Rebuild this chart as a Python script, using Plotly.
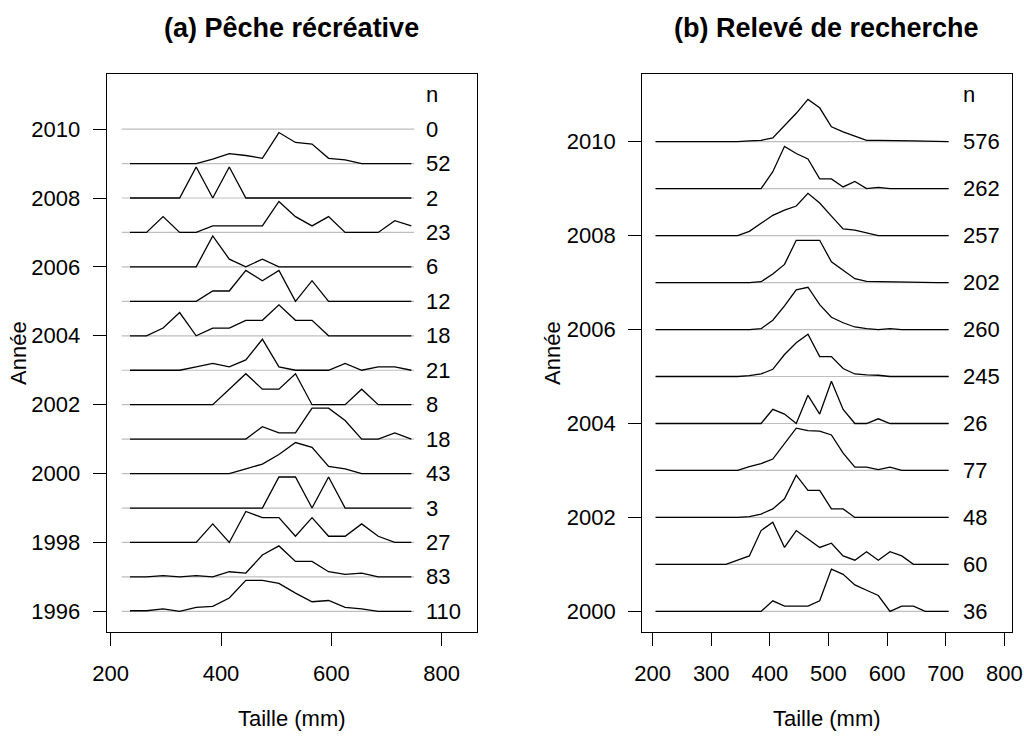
import plotly.graph_objects as go

# ---------------- data ----------------
# (a) Pêche récréative : 30 mm size classes (class mid-points, mm)
peche_bins = [235, 265, 295, 325, 355, 385, 415, 445, 475, 505,
              535, 565, 595, 625, 655, 685, 715, 745]
peche_years = [2010, 2009, 2008, 2007, 2006, 2005, 2004, 2003,
               2002, 2001, 2000, 1999, 1998, 1997, 1996]
peche_n = [0, 52, 2, 23, 6, 12, 18, 21, 8, 18, 43, 3, 27, 83, 110]

peche_2010 = [0] * 18
peche_2009 = [0, 0, 0, 0, 0, .14, .32, .26, .17, 1, .68, .63, .17, .12, 0, 0, 0, 0]
peche_2008 = [0, 0, 0, 0, 1, 0, 1, 0, 0, 0, 0, 0, 0, 0, 0, 0, 0, 0]
peche_2007 = [0, 0, .51, 0, 0, .21, .21, .21, .21, 1, .51, .21, .51, 0, 0, 0, .38, .21]
peche_2006 = [0, 0, 0, 0, 0, 4, 1, 0, 1, 0, 0, 0, 0, 0, 0, 0, 0, 0]
peche_2005 = [0, 0, 0, 0, 0, 1, 1, 3, 2, 3, 0, 2, 0, 0, 0, 0, 0, 0]
peche_2004 = [0, 0, 1, 3, 0, 1, 1, 2, 2, 4, 2, 2, 0, 0, 0, 0, 0, 0]
peche_2003 = [0, 0, 0, 0, 1, 2, 1, 3, 9, 1, 0, 0, 0, 2, 0, 1, 1, 0]
peche_2002 = [0, 0, 0, 0, 0, 0, 1, 2, 1, 1, 2, 0, 0, 0, 1, 0, 0, 0]
peche_2001 = [0, 0, 0, 0, 0, 0, 0, 0, 2, 1, 1, 5, 5, 3, 0, 0, 1, 0]
peche_2000 = [0, 0, 0, 0, 0, 0, 0, 2, 4, 8, 13, 11, 3, 2, 0, 0, 0, 0]
peche_1999 = [0, 0, 0, 0, 0, 0, 0, 0, 0, 1, 1, 0, 1, 0, 0, 0, 0, 0]
peche_1998 = [0, 0, 0, 0, 0, 3, 0, 5, 4, 4, 1, 4, 1, 1, 3, 1, 0, 0]
peche_1997 = [0, 0, 1, 0, 1, 0, 4, 3, 17, 24, 12, 12, 4, 2, 3, 0, 0, 0]
peche_1996 = [.02, .02, .08, 0, .13, .16, .43, 1, 1, .9, .59, .31, .35, .13, .08, 0, 0, 0]

peche_freq = [peche_2010, peche_2009, peche_2008, peche_2007, peche_2006,
              peche_2005, peche_2004, peche_2003, peche_2002, peche_2001,
              peche_2000, peche_1999, peche_1998, peche_1997, peche_1996]

# (b) Relevé de recherche : 20 mm size classes
releve_bins = [205, 225, 245, 265, 285, 305, 325, 345, 365, 385, 405, 425, 445,
               465, 485, 505, 525, 545, 565, 585, 605, 625, 645, 665, 685, 705]
releve_years = [2010, 2009, 2008, 2007, 2006, 2005, 2004, 2003, 2002, 2001, 2000]
releve_n = [576, 262, 257, 202, 260, 245, 26, 77, 48, 60, 36]

releve_2010 = [0, 0, 0, 0, 0, 0, 0, 0, .02, .03, .09, .38, .67, 1, .8, .35, .23, .13,
               .03, .03, .03, .02, .02, .01, 0, 0]
releve_2009 = [0, 0, 0, 0, 0, 0, 0, 0, 0, 0, .4, 1, .83, .7, .23, .23, .04, .17,
               0, .03, 0, 0, 0, 0, 0, 0]
releve_2008 = [0, 0, 0, 0, 0, 0, 0, 0, .1, .28, .48, .6, .7, 1, .77, .46, .16, .13,
               .06, 0, 0, 0, 0, 0, 0, 0]
releve_2007 = [0, 0, 0, 0, 0, 0, 0, 0, 0, .02, .2, .43, 1, 1, 1, .49, .3, .09,
               .03, .025, .01, 0, 0, 0, 0, 0]
releve_2006 = [0, 0, 0, 0, 0, 0, 0, 0, 0, .02, .22, .56, .94, 1, .59, .29, .16, .06,
               .02, 0, .02, 0, 0, 0, 0, 0]
releve_2005 = [0, 0, 0, 0, 0, 0, 0, 0, .02, .06, .17, .52, .8, 1, .47, .47, .19, .06,
               .04, .03, 0, 0, 0, 0, 0, 0]
releve_2004 = [0, 0, 0, 0, 0, 0, 0, 0, 0, 0, 3, 2, 0, 6, 2, 9, 3, 0,
               0, 1, 0, 0, 0, 0, 0, 0]
releve_2003 = [0, 0, 0, 0, 0, 0, 0, 0, .09, .16, .27, .63, 1, .94, .93, .84, .41, .08,
               .08, .02, .08, 0, 0, 0, 0, 0]
releve_2002 = [0, 0, 0, 0, 0, 0, 0, 0, .02, .08, .2, .44, 1, .64, .64, .2, .2, 0,
               0, 0, 0, 0, 0, 0, 0, 0]
releve_2001 = [0, 0, 0, 0, 0, 0, 0, 1, 2, 8, 10, 4, 8, 6, 4, 5, 2, 1,
               3, 1, 3, 2, 0, 0, 0, 0]
releve_2000 = [0, 0, 0, 0, 0, 0, 0, 0, 0, 0, 2, 1, 1, 1, 2, 8, 7, 5,
               4, 3, 0, 1, 1, 0, 0, 0]

releve_freq = [releve_2010, releve_2009, releve_2008, releve_2007, releve_2006,
               releve_2005, releve_2004, releve_2003, releve_2002, releve_2001,
               releve_2000]

# ---------------- figure ----------------
FONT = "Liberation Sans, Arial, sans-serif"
SCALE = 0.9          # max ridge height, in years
GREY = "#BEBEBE"

fig = go.Figure()


def add_panel(bins, years, ns, freqs, xref, yref, base_from, base_to, n_x):
    for yr, n, f in zip(years, ns, freqs):
        fig.add_trace(go.Scatter(x=[base_from, base_to], y=[yr, yr], mode="lines",
                                 line=dict(color=GREY, width=1.2), xaxis=xref,
                                 yaxis=yref, showlegend=False, hoverinfo="skip"))
        m = max(f)
        if n > 0 and m > 0:
            fig.add_trace(go.Scatter(x=bins, y=[yr + SCALE * v / m for v in f],
                                     mode="lines", line=dict(color="black", width=1.3),
                                     xaxis=xref, yaxis=yref, showlegend=False))
        fig.add_annotation(x=n_x, y=yr, xref=xref, yref=yref, text=str(n),
                           showarrow=False, xanchor="left", yanchor="middle",
                           font=dict(family=FONT, size=22, color="black"))
    fig.add_annotation(x=n_x, y=max(years) + 1, xref=xref, yref=yref, text="n",
                       showarrow=False, xanchor="left", yanchor="middle",
                       font=dict(family=FONT, size=22, color="black"))


add_panel(peche_bins, peche_years, peche_n, peche_freq, "x", "y", 220, 750, 768)
add_panel(releve_bins, releve_years, releve_n, releve_freq, "x2", "y2", 205, 705, 726)

axis_common = dict(showgrid=False, zeroline=False, showline=True, mirror=True,
                   linecolor="black", linewidth=1.3, ticks="outside", ticklen=13,
                   tickwidth=1, tickcolor="black", automargin=False,
                   tickfont=dict(family=FONT, size=22, color="black"))

fig.update_layout(
    width=1024, height=740,
    margin=dict(l=0, r=0, t=0, b=0, pad=0, autoexpand=False),
    paper_bgcolor="white", plot_bgcolor="white",
    xaxis=dict(domain=[0.1042, 0.4658], range=[192.8, 864], tickvals=[200, 400, 600, 800],
               ticklabelstandoff=8, anchor="y", **axis_common),
    yaxis=dict(domain=[0.1459, 0.9], range=[1995.4, 2011.6],
               tickvals=[1996, 1998, 2000, 2002, 2004, 2006, 2008, 2010],
               ticklabelstandoff=8, anchor="x", **axis_common),
    xaxis2=dict(domain=[0.6272, 0.988], range=[182.3, 812.6],
                tickvals=[200, 300, 400, 500, 600, 700, 800],
                ticklabelstandoff=8, anchor="y2", **axis_common),
    yaxis2=dict(domain=[0.1459, 0.9], range=[1999.56, 2011.44],
                tickvals=[2000, 2002, 2004, 2006, 2008, 2010],
                ticklabelstandoff=8, anchor="x2", **axis_common),
)

# titles and axis labels
for txt, x in [("<b>(a) Pêche récréative</b>", 0.285), ("<b>(b) Relevé de recherche</b>", 0.8076)]:
    fig.add_annotation(x=x, y=1 - 28 / 740, xref="paper", yref="paper", text=txt,
                       showarrow=False, xanchor="center", yanchor="middle",
                       font=dict(family=FONT, size=27, color="black"))
for x in [0.285, 0.8076]:
    fig.add_annotation(x=x, y=1 - 718 / 740, xref="paper", yref="paper", text="Taille (mm)",
                       showarrow=False, xanchor="center", yanchor="middle",
                       font=dict(family=FONT, size=22, color="black"))
for x in [18 / 1024, 552 / 1024]:
    fig.add_annotation(x=x, y=1 - 353 / 740, xref="paper", yref="paper", text="Année",
                       showarrow=False, xanchor="center", yanchor="middle", textangle=-90,
                       font=dict(family=FONT, size=22, color="black"))

fig.write_html("out.html")
